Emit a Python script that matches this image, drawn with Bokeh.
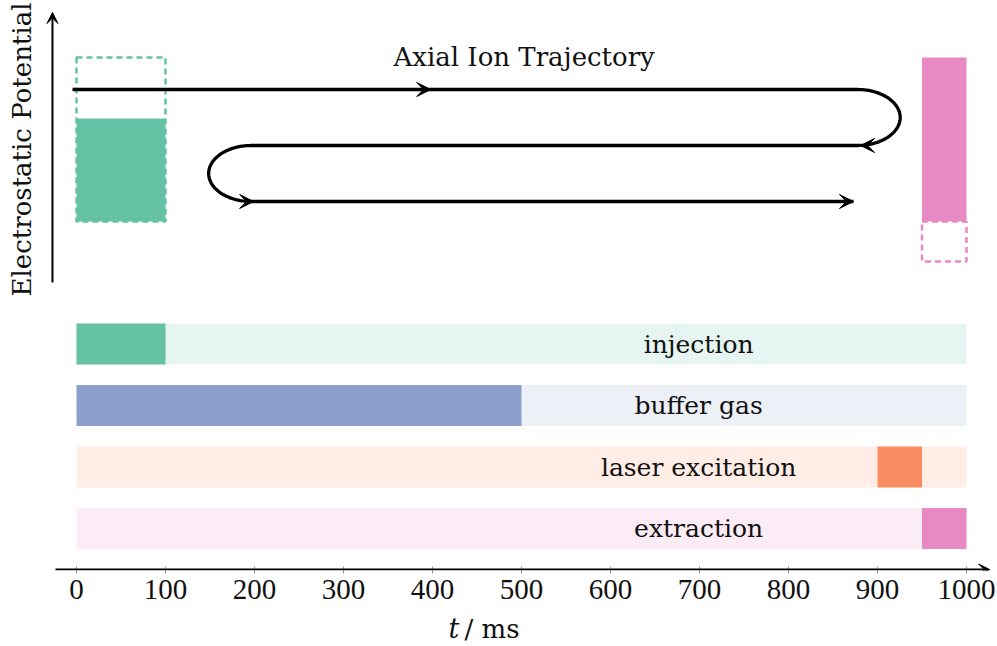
import numpy as np
from bokeh.plotting import figure
from bokeh.layouts import column
from bokeh.models import Arrow, VeeHead, Range1d, FixedTicker
from bokeh.core.properties import value
from bokeh.embed import file_html
from bokeh.resources import INLINE

# ---------------- data ----------------
phases = ["injection", "buffer gas", "laser excitation", "extraction"]
active_start = [0, 0, 900, 950]          # ms
active_end = [100, 500, 950, 1000]       # ms
cycle_start = 0
cycle_end = 1000
phase_colors = ["#66c2a5", "#8da0cb", "#fc8d62", "#e78ac3"]
tick_values = [0, 100, 200, 300, 400, 500, 600, 700, 800, 900, 1000]
tick_labels = ["0", "100", "200", "300", "400", "500", "600", "700", "800", "900", "1000"]

# electrostatic potential schematic (arbitrary potential units)
electrode_start = [0, 950]
electrode_end = [100, 1000]
electrode_colors = ["#66c2a5", "#e78ac3"]
solid_low = [349, 349]
solid_high = [452, 513]
dashed_low = [349, 309]
dashed_high = [513, 349]

# ion trajectory levels and turning points
traj_levels = [481, 425, 369]
traj_start = -4.5
turn_right = 877.5
turn_left = 196.5
traj_end = 873
arrow_tips = [398, 881, 199, 873]
arrow_levels = [481, 425, 369, 369]
arrow_dirs = [1, -1, 1, 1]

WORD_FONT = "DejaVu Serif"
NUM_FONT = "Liberation Serif"
TXT = "#111111"

# ---------------- figure ----------------
x0 = -76 / 0.89
x1 = (997 - 76) / 0.89
p = figure(width=997, height=614, output_backend="svg", toolbar_location=None,
           x_range=Range1d(x0, x1), y_range=Range1d(0, 570),
           y_axis_location=None, min_border_left=0, min_border_right=0,
           min_border_top=0, min_border_bottom=44)
p.outline_line_color = None
p.grid.visible = False
p.ygrid.visible = False
p.xgrid.visible = False

# ---------------- phase bars ----------------
lane_base = 42
lane_step = 61.5
lane_half = 20.5
n = len(phases)
centers = [lane_base + lane_step * (n - 1 - i) for i in range(n)]
p.quad(left=[cycle_start] * n, right=[cycle_end] * n,
       bottom=[c - lane_half for c in centers], top=[c + lane_half for c in centers],
       fill_color=phase_colors, fill_alpha=0.16, line_color=None)
p.quad(left=active_start, right=active_end,
       bottom=[c - lane_half for c in centers], top=[c + lane_half for c in centers],
       fill_color=phase_colors, fill_alpha=1.0, line_color=None)
p.text(x=[699] * n, y=centers, text=phases, text_font=value(WORD_FONT),
       text_font_size="25px", text_align="center", text_baseline="middle",
       text_color=TXT)

# ---------------- potential boxes ----------------
p.quad(left=electrode_start, right=electrode_end, bottom=dashed_low, top=dashed_high,
       fill_color=None, line_color=electrode_colors, line_width=2.5, line_dash="6 4")
p.quad(left=electrode_start, right=electrode_end, bottom=solid_low, top=solid_high,
       fill_color=electrode_colors, line_color=None)

# ---------------- trajectory ----------------
ry = (traj_levels[0] - traj_levels[1]) / 2
rx = 48
th1 = np.linspace(np.pi / 2, -np.pi / 2, 60)
th2 = np.linspace(np.pi / 2, 3 * np.pi / 2, 60)
yc1 = (traj_levels[0] + traj_levels[1]) / 2
yc2 = (traj_levels[1] + traj_levels[2]) / 2
xs = np.concatenate([[traj_start], turn_right + rx * np.cos(th1),
                     turn_left + rx * np.cos(th2), [traj_end]])
ys = np.concatenate([[traj_levels[0]], yc1 + ry * np.sin(th1),
                     yc2 + ry * np.sin(th2), [traj_levels[2]]])
p.line(xs, ys, line_color="black", line_width=3.3, line_join="round")
for xt, yl, d in zip(arrow_tips, arrow_levels, arrow_dirs):
    p.add_layout(Arrow(x_start=xt - d * 2, y_start=yl, x_end=xt, y_end=yl,
                       line_alpha=0,
                       end=VeeHead(size=14, fill_color="black", line_color="black",
                                   line_width=1)))

p.text(x=[503], y=[514], text=["Axial Ion Trajectory"], text_font=value(WORD_FONT),
       text_font_size="26px", text_align="center", text_baseline="middle",
       text_color=TXT)

# ---------------- potential axis ----------------
p.add_layout(Arrow(x_start=-27, y_start=288, x_end=-27, y_end=558,
                   line_color="black", line_width=2,
                   end=VeeHead(size=11, fill_color="black", line_color="black")))
p.text(x=[-61], y=[421], text=["Electrostatic Potential"], angle=np.pi / 2,
       text_font=value(WORD_FONT), text_font_size="26px", text_align="center",
       text_baseline="middle", text_color=TXT)

# ---------------- time axis ----------------
p.add_layout(Arrow(x_start=-23.6, y_start=1, x_end=1026, y_end=1,
                   line_color="black", line_width=2,
                   end=VeeHead(size=11, fill_color="black", line_color="black")))
ax = p.xaxis[0]
ax.ticker = FixedTicker(ticks=tick_values)
ax.major_label_overrides = {v: s for v, s in zip(tick_values, tick_labels)}
ax.axis_line_color = None
ax.major_tick_in = 4
ax.major_tick_out = 3
ax.major_tick_line_color = "#999999"
ax.minor_tick_line_color = None
ax.major_label_standoff = 6
ax.major_label_text_font = NUM_FONT
ax.major_label_text_font_size = "29px"
ax.major_label_text_color = TXT

# ---------------- axis title strip ----------------
q = figure(width=997, height=32, output_backend="svg", toolbar_location=None,
           x_range=p.x_range, y_range=Range1d(0, 32),
           x_axis_location=None, y_axis_location=None,
           min_border_left=0, min_border_right=0, min_border_top=0,
           min_border_bottom=0)
q.outline_line_color = None
q.grid.visible = False
q.text(x=[(448 - 76) / 0.89], y=[18], text=["t"], text_font=value(WORD_FONT),
       text_font_style="italic", text_font_size="27px", text_align="left",
       text_baseline="middle", text_color=TXT)
q.text(x=[(464 - 76) / 0.89], y=[18], text=["/ ms"], text_font=value(WORD_FONT),
       text_font_size="26px", text_align="left", text_baseline="middle",
       text_color=TXT)

layout = column(p, q, spacing=0)
open("out.html", "w").write(file_html(layout, INLINE))
